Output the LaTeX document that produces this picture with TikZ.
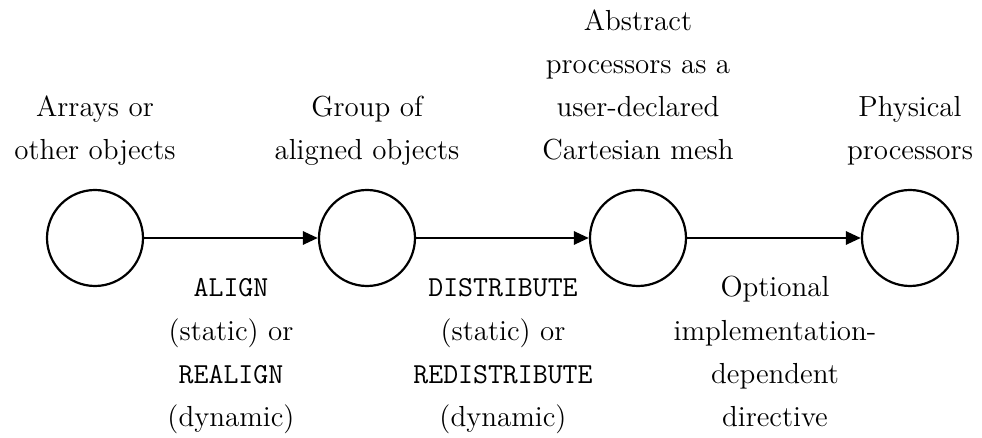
\documentclass[tikz,border=0pt]{standalone}
\usetikzlibrary{arrows.meta}
\newcommand{\stk}[2][b]{{\setlength{\tabcolsep}{0pt}\renewcommand{\arraystretch}{1}\begin{tabular}[#1]{c}#2\end{tabular}}}
\begin{document}
\begin{tikzpicture}[x=0.5pt,y=-0.5pt,
  proc/.style={circle,draw,line width=1.1pt,minimum size=48pt,inner sep=0pt},
  lbl/.style={inner sep=0pt,anchor=base,font=\fontsize{14.5}{21.65}\selectfont},
  flow/.style={line width=1.4pt,-{Triangle[length=7.5pt,width=6.5pt]}}]
\useasboundingbox (0,0) rectangle (982,438);
\node[proc] (c1) at (95,238) {};
\node[proc] (c2) at (367,238) {};
\node[proc] (c3) at (638,238) {};
\node[proc] (c4) at (910,238) {};
\draw[flow] (c1) -- (c2);
\draw[flow] (c2) -- (c3);
\draw[flow] (c3) -- (c4);
\node[lbl] (t1) at (95,160) {\stk{Arrays or\\other objects}};
\node[lbl] (t2) at (367,160) {\stk{Group of\\aligned objects}};
\node[lbl] (t3) at (638,160) {\stk{Abstract\\processors as a\\user-declared\\Cartesian mesh}};
\node[lbl] (t4) at (910,160) {\stk{Physical\\processors}};
\node[lbl] (b1) at (231,297) {\stk[t]{\texttt{ALIGN}\\(static) or\\\texttt{REALIGN}\\(dynamic)}};
\node[lbl] (b2) at (503,297) {\stk[t]{\texttt{DISTRIBUTE}\\(static) or\\\texttt{REDISTRIBUTE}\\(dynamic)}};
\node[lbl] (b3) at (775,297) {\stk[t]{Optional\\implementation-\\dependent\\directive}};
\end{tikzpicture}
\end{document}
